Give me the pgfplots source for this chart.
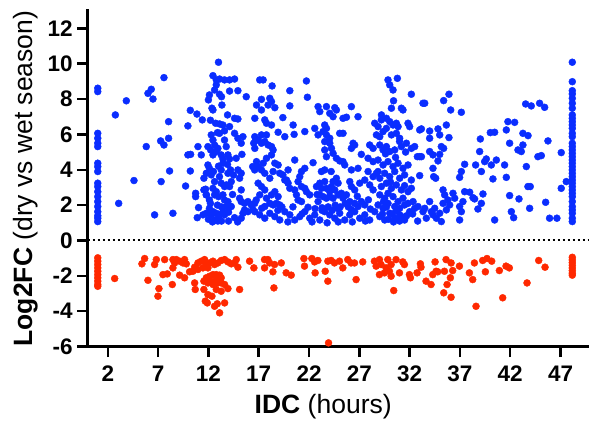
\documentclass[border=0pt]{standalone}
\usepackage{pgfplots}
\pgfplotsset{compat=1.18}
\usepackage{fontspec}
\setmainfont{Liberation Sans}
\definecolor{upblue}{RGB}{10,45,255}
\definecolor{downred}{RGB}{255,40,0}

\pgfplotstableread{
x y
1 8.61
1 8.42
1 6.06
1 5.78
1 5.5
1 5.31
1 4.37
1 4.18
1 3.9
1 3.24
1 3.05
1 2.76
1 2.48
1 2.2
1 1.92
1 1.63
1 1.4
1 1.26
1 1.07
2.75 7.1
3.84 7.9
3.08 2.1
4.6 3.39
5.82 5.31
5.99 8.32
6.32 8.55
6.49 8.0
7.58 9.21
7.25 5.63
7.58 5.4
8.04 6.72
8.04 5.78
7.3 3.33
8.14 3.93
6.65 1.45
8.47 1.54
9.73 3.08
9.96 6.48
9.96 4.84
10.23 4.87
10.2 7.36
10.2 3.93
10.86 7.15
11.39 6.82
10.96 5.31
10.73 2.67
10.73 2.48
10.89 1.29
11.02 1.86
11.29 4.84
11.55 3.52
11.72 2.9
11.79 2.58
11.95 5.31
12.0 7.95
12.1 8.23
12.45 9.32
13.0 10.08
12.78 9.08
12.78 8.8
12.61 8.51
13.11 9.13
13.6 9.08
14.1 9.08
14.6 9.13
13.1 8.27
13.3 8.13
14.1 8.45
14.93 8.47
15.76 8.13
12.35 7.48
12.45 7.38
13.34 7.66
12.71 6.63
13.11 6.59
13.44 6.53
14.1 6.44
14.6 6.91
14.93 6.87
12.28 5.97
12.45 5.68
13.1 6.06
14.6 6.06
14.93 5.78
15.26 5.5
15.43 5.87
16.5 5.5
16.7 5.68
13.6 5.68
13.77 5.31
12.61 5.4
12.94 5.21
12.78 5.03
12.45 4.84
12.22 5.12
13.27 4.84
13.44 4.61
13.94 4.84
14.1 4.61
14.76 4.65
15.33 4.87
16.4 4.18
16.6 3.99
11.95 4.27
12.1 4.08
11.79 3.8
13.27 3.99
13.44 4.37
13.94 3.8
14.2 3.99
14.93 3.99
15.26 3.8
15.1 3.52
12.28 3.71
12.61 3.33
13.1 3.61
13.27 3.24
13.6 3.05
13.77 3.14
14.1 3.05
14.27 3.33
15.26 2.86
11.55 2.86
11.79 2.58
12.1 2.29
12.61 2.58
12.45 2.95
12.78 2.76
13.0 2.48
13.44 2.58
13.6 2.29
13.94 2.2
13.77 1.92
15.1 2.39
15.26 2.2
15.59 2.1
15.93 2.2
16.26 2.01
16.6 2.1
16.75 2.29
12.1 1.82
12.45 1.63
12.78 1.54
13.1 1.45
12.28 1.45
12.61 1.16
12.94 1.1
13.44 1.63
13.6 1.45
11.79 1.54
11.46 1.45
14.6 1.29
15.26 1.26
15.43 1.54
15.59 1.73
15.93 1.63
16.43 1.73
14.27 1.92
12.2 2.1
12.9 2.0
13.3 1.9
14.0 1.6
14.4 2.6
12.5 3.9
13.0 4.2
13.9 4.3
14.5 3.7
12.9 6.1
13.6 6.2
12.2 6.8
13.9 7.1
12.0 1.2
12.4 1.05
13.0 1.3
13.3 1.1
14.9 1.05
14.0 1.1
17.1 9.08
17.44 9.08
18.33 8.74
20.09 8.47
21.74 9.02
21.84 8.1
17.27 7.98
18.1 8.04
18.27 7.85
16.78 7.66
17.93 7.66
18.6 7.51
17.27 7.38
20.09 7.61
16.61 6.91
17.6 6.82
19.4 6.95
17.77 6.63
18.27 6.53
20.42 6.53
18.93 6.12
19.59 5.87
20.52 6.0
21.58 6.16
22.57 6.34
22.9 5.97
22.9 7.57
23.07 7.29
23.73 7.57
24.56 7.51
24.72 7.38
24.06 7.19
24.39 7.0
25.38 6.91
25.72 6.97
26.21 7.57
26.87 7.0
23.56 6.53
23.73 6.34
23.4 6.16
23.73 5.97
24.06 5.78
25.05 6.06
25.38 6.06
23.56 5.59
24.06 5.5
24.23 5.21
23.56 5.12
24.39 4.93
26.38 5.5
26.54 5.4
26.21 5.21
27.2 4.87
23.73 4.74
24.72 4.65
25.05 4.5
25.38 4.46
25.55 4.27
26.21 3.99
26.87 4.08
23.23 3.9
23.56 3.99
20.58 4.55
21.58 4.08
21.25 3.9
21.08 3.61
19.92 3.99
19.4 3.71
19.59 3.42
16.61 5.21
16.78 4.46
16.94 4.18
17.27 3.99
17.6 3.8
17.44 4.37
17.77 4.65
18.27 4.84
18.6 4.37
18.93 4.27
19.09 3.8
18.43 3.9
18.1 3.52
16.61 5.87
16.94 5.68
17.27 5.5
17.6 5.59
17.93 5.4
18.27 5.31
18.43 5.12
17.77 5.97
17.27 5.97
16.94 3.24
17.27 3.05
17.6 2.86
17.1 2.58
17.77 2.39
18.27 2.58
18.6 2.76
18.93 2.48
18.1 2.1
18.43 2.01
18.76 2.1
19.09 2.01
17.6 1.92
19.76 3.42
19.92 3.24
20.09 2.95
20.91 3.33
21.25 3.05
21.58 2.95
21.74 2.76
22.07 2.58
20.58 2.86
20.75 2.58
20.91 2.29
21.25 2.2
22.74 3.05
23.07 3.24
23.56 3.33
23.23 2.95
23.73 2.95
24.23 3.05
24.06 2.76
24.56 2.86
24.89 3.24
24.72 3.52
24.39 3.33
23.07 2.58
23.4 2.48
23.73 2.39
24.06 2.48
24.39 2.39
24.89 2.58
25.22 2.67
25.38 2.39
25.72 2.58
26.05 3.33
26.21 3.05
26.54 2.86
27.04 3.24
27.54 3.42
28.03 3.14
28.37 2.86
26.05 2.2
26.54 2.1
26.87 1.92
27.2 2.2
27.54 2.01
27.87 3.9
28.37 3.61
28.7 3.8
29.03 3.52
16.61 1.63
17.1 1.45
17.6 1.26
18.1 1.54
18.6 1.35
19.09 1.16
19.59 1.63
20.09 1.45
20.58 1.16
21.08 1.35
21.58 1.63
22.07 1.26
22.57 1.45
23.07 1.16
23.56 1.63
24.06 1.45
24.56 1.26
25.05 1.54
25.55 1.16
26.05 1.45
26.54 1.63
27.04 1.26
27.54 1.45
28.03 1.16
28.53 1.63
29.03 1.35
29.52 1.16
30.02 1.54
30.52 1.26
31.01 1.45
31.5 1.16
32.0 1.63
17.3 1.82
19.3 1.9
21.9 1.88
23.3 1.85
24.9 1.8
26.2 1.75
28.1 1.78
22.6 1.8
23.3 1.7
23.9 1.9
24.6 2.0
25.1 1.9
22.9 2.2
24.3 1.7
25.6 2.1
22.3 1.05
23.8 1.0
24.9 1.05
26.3 1.05
27.6 1.1
18.9 1.7
20.4 1.9
21.3 1.5
22.8 2.6
25.9 1.9
26.8 2.5
27.9 2.3
24.2 3.9
22.4 4.4
19.9 1.05
29.85 9.08
30.78 9.17
30.02 8.8
30.35 8.51
32.17 8.27
33.33 7.76
30.19 7.48
31.18 7.48
31.34 7.38
31.84 6.63
32.0 6.44
33.0 6.25
28.53 6.63
28.86 6.44
29.19 6.82
29.69 6.91
30.02 6.72
30.35 6.53
30.68 6.63
30.85 6.44
28.7 5.97
29.03 5.87
29.36 6.16
29.69 6.34
30.19 5.97
30.68 6.06
31.01 5.78
31.68 5.5
32.17 5.21
28.03 5.4
28.37 5.21
29.03 5.4
29.36 5.12
29.69 5.31
30.02 5.03
30.52 5.12
31.18 5.31
32.5 5.31
32.77 4.74
27.87 4.65
28.37 4.46
28.86 4.55
29.36 4.27
29.85 4.46
30.35 4.18
30.85 4.37
31.34 4.08
31.84 4.27
28.86 3.9
29.52 3.8
30.02 3.61
30.52 3.9
31.01 3.52
31.5 3.71
32.17 3.42
29.19 3.05
29.69 3.24
30.19 2.95
30.68 3.14
31.18 2.86
31.84 2.76
32.17 2.95
29.03 2.58
29.52 2.39
29.85 2.67
30.35 2.48
30.85 2.2
31.34 2.39
31.84 2.1
32.34 2.2
32.83 1.92
28.86 2.01
29.36 1.82
29.85 2.1
30.52 1.92
31.01 1.82
31.5 2.01
32.5 1.82
33.17 4.74
29.3 1.5
29.7 1.9
30.3 1.5
30.7 1.7
31.2 1.35
29.9 1.2
30.4 1.05
31.0 1.1
31.7 1.4
32.3 1.5
32.8 1.1
29.4 2.2
30.1 3.3
31.5 3.1
29.6 4.9
30.6 4.7
31.6 5.0
29.2 7.1
30.4 7.9
31.0 5.6
48.17 10.08
48.17 8.98
48.17 8.47
48.17 8.29
48.17 8.04
48.17 7.76
48.17 7.48
48.17 7.1
48.17 6.91
48.17 6.72
48.17 6.53
48.17 6.34
48.17 6.06
48.17 5.87
48.17 5.5
48.17 5.31
48.17 5.12
48.17 4.93
48.17 4.74
48.17 4.55
48.17 4.37
48.17 4.18
48.17 3.99
48.17 3.8
48.17 3.61
48.17 3.42
48.17 3.24
48.17 3.05
48.17 2.86
48.17 2.67
48.17 2.48
48.17 2.2
48.17 1.92
48.17 1.73
48.17 1.54
48.17 1.26
48.17 1.07
33.5 7.76
35.38 7.91
35.91 8.27
36.08 7.38
37.14 7.25
33.17 6.31
33.99 6.19
34.82 6.31
34.99 5.97
35.65 6.53
35.91 5.82
33.99 5.78
35.15 5.31
35.38 5.21
33.99 5.03
34.32 4.84
34.99 4.87
34.82 4.5
33.0 4.74
34.32 4.08
34.59 3.52
33.0 3.67
34.39 3.61
37.47 4.31
37.14 3.9
36.97 3.57
39.03 5.74
38.96 5.03
38.56 4.27
39.13 3.9
39.46 4.46
39.62 4.61
40.12 4.27
40.62 4.55
40.28 3.48
41.44 4.27
41.61 3.57
40.02 6.1
40.45 6.12
41.61 6.25
41.77 6.72
42.44 6.68
41.94 5.5
43.26 6.06
43.77 5.93
43.26 5.4
42.77 5.12
43.1 5.03
43.6 4.18
44.75 4.74
45.09 4.8
45.75 5.63
47.07 4.97
43.53 7.72
44.09 7.61
44.92 7.76
45.42 7.53
47.57 3.33
47.07 2.95
43.76 3.05
43.99 3.05
41.94 2.54
42.87 2.35
43.93 1.82
45.52 2.16
42.11 1.63
42.34 1.29
45.91 1.26
46.64 1.26
40.45 1.16
39.29 2.63
39.13 2.1
38.79 1.78
38.46 2.35
37.47 2.76
37.97 2.73
38.3 2.42
37.3 2.2
36.97 1.92
37.14 1.63
36.97 1.16
35.32 2.86
35.48 2.58
36.31 2.67
36.48 2.39
35.81 2.29
35.98 2.01
35.32 2.1
35.65 1.73
34.99 1.54
34.66 1.26
35.15 1.07
34.49 1.82
33.99 2.2
34.16 1.63
33.5 1.82
33.66 1.26
33.33 1.63
34.32 1.45
}\upregulated

\pgfplotstableread{
x y
1 -0.98
1 -1.17
1 -1.36
1 -1.55
1 -1.74
1 -1.93
1 -2.11
1 -2.3
1 -2.49
1 -2.59
2.68 -2.15
5.66 -1.02
5.39 -1.32
5.99 -2.25
6.82 -1.08
6.65 -1.36
7.65 -1.08
7.48 -1.93
7.91 -1.89
7.08 -2.72
6.98 -3.15
8.47 -1.08
8.81 -1.08
8.64 -1.27
9.14 -1.17
9.63 -1.08
9.47 -1.27
9.8 -1.32
8.47 -1.55
9.14 -1.96
9.63 -2.11
8.41 -2.49
10.13 -1.77
10.63 -1.51
10.96 -1.27
11.29 -1.17
11.62 -1.08
11.79 -1.32
11.95 -1.55
12.12 -1.27
12.45 -1.17
12.61 -1.36
12.94 -1.27
13.27 -1.13
13.61 -1.08
13.94 -1.21
14.27 -1.32
14.6 -1.27
14.77 -1.08
14.93 -1.51
10.46 -1.74
10.96 -1.64
11.45 -1.55
10.63 -2.4
10.69 -2.77
11.55 -2.77
11.55 -2.3
11.79 -2.11
12.12 -2.02
12.45 -1.93
12.78 -1.93
13.11 -1.96
13.27 -2.11
12.78 -2.21
12.28 -2.3
11.95 -2.4
12.45 -2.49
12.94 -2.4
13.27 -2.4
13.61 -2.49
11.95 -3.06
12.78 -2.77
13.27 -2.87
13.94 -2.72
15.1 -2.77
12.35 -3.15
11.69 -3.43
11.89 -3.53
12.61 -3.72
12.88 -3.58
13.61 -3.53
13.11 -4.09
16.09 -1.17
16.52 -1.55
17.58 -1.08
17.91 -1.08
18.08 -1.27
17.58 -1.55
18.57 -1.36
18.41 -1.77
19.24 -1.27
19.73 -1.83
20.23 -1.96
18.51 -2.68
21.49 -1.02
21.55 -1.45
22.28 -1.02
22.55 -1.21
22.88 -1.13
22.61 -1.83
23.87 -1.17
24.2 -1.13
24.53 -1.27
23.61 -1.74
23.87 -2.3
23.94 -5.79
25.03 -1.17
25.36 -1.55
25.85 -1.08
26.18 -1.27
26.52 -1.27
27.34 -1.21
26.68 -2.21
28.5 -1.17
28.67 -1.45
29.0 -1.08
29.16 -1.36
29.83 -1.08
29.66 -1.55
29.99 -1.74
29.5 -1.83
29.0 -1.93
30.16 -1.36
30.65 -1.08
31.32 -1.21
31.48 -1.36
30.99 -1.83
30.16 -2.02
30.42 -2.83
31.98 -1.93
32.08 -2.11
32.74 -1.83
33.07 -1.32
33.13 -1.51
33.63 -2.3
34.13 -2.49
34.3 -1.93
34.53 -1.21
34.63 -1.74
34.79 -1.77
35.62 -1.08
36.12 -1.27
36.28 -1.7
36.05 -2.11
35.72 -2.49
35.39 -2.96
36.12 -3.21
36.95 -1.45
35.46 -1.74
37.94 -1.83
38.27 -2.21
38.44 -1.27
39.26 -1.13
39.69 -1.02
40.16 -1.17
39.53 -1.77
38.6 -3.72
40.92 -1.7
41.58 -1.45
41.91 -1.55
41.25 -3.24
43.67 -2.4
44.83 -1.13
45.46 -1.51
48.17 -0.95
48.17 -1.1
48.17 -1.25
48.17 -1.4
48.17 -1.55
48.17 -1.7
48.17 -1.85
48.17 -1.96
}\downregulated

\begin{document}
\begin{tikzpicture}
\begin{axis}[
  scale only axis, width=501pt, height=336pt,
  at={(0,0)}, anchor=south west,
  xmin=0, xmax=49.8, ymin=-6, ymax=13,
  axis x line*=bottom, axis y line*=left,
  axis line style={line width=2.5pt, line cap=rect},
  xtick={2,7,...,47}, ytick={-6,-4,...,12},
  tick align=outside, major tick length=10.5pt,
  tick style={line width=2.5pt, black},
  /pgf/number format/assume math mode=true,
  ticklabel style={font=\bfseries\fontsize{22.5}{26}\selectfont},
  xticklabel style={yshift=-5pt},
  yticklabel style={xshift=-1pt},
  xlabel={\textbf{IDC} (hours)},
  ylabel={\textbf{Log2FC} (dry vs wet season)},
  label style={font=\fontsize{26.5}{31}\selectfont},
  xlabel style={yshift=-6pt, xshift=-15pt},
  ylabel style={yshift=3pt},
  clip=false,
]
\addplot[black, line width=2pt, dash pattern=on 2pt off 3pt] coordinates {(0,0) (49.8,0)};
\addplot[only marks, mark=*, mark size=3.5pt, color=upblue, mark options={draw=upblue, fill=upblue}] table {\upregulated};
\addplot[only marks, mark=*, mark size=3.5pt, color=downred, mark options={draw=downred, fill=downred}] table {\downregulated};
\end{axis}
\pgfresetboundingbox
\path[use as bounding box] (-87.7pt,-83.3pt) rectangle (501.3pt,346.6pt);
\end{tikzpicture}
\end{document}
